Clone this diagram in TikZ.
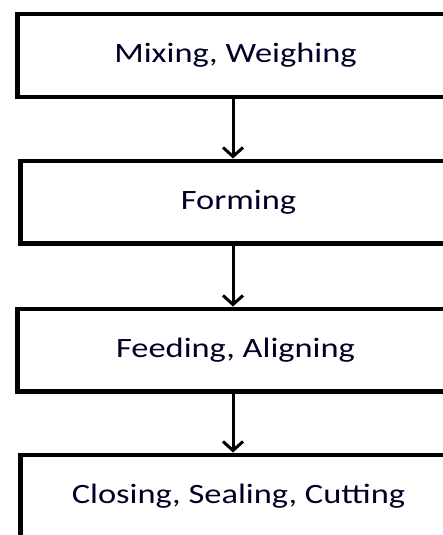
\documentclass[tikz,border=0pt]{standalone}
\usepackage{fontspec}
\setmainfont{Carlito}[FakeStretch=1.23]
\usetikzlibrary{arrows.meta}
\begin{document}
\begin{tikzpicture}[x=1pt,y=-1pt,
  box/.style={draw=black,line width=4.5pt,minimum width=436pt,minimum height=82.5pt,inner sep=0pt,
    font=\fontsize{28}{32}\selectfont,text=black!85!blue},
  arr/.style={line width=3pt,-{Straight Barb[length=9pt,width=20pt,line width=3pt]}}]
\useasboundingbox (0,0) rectangle (443,535);
\node[box] (b1) at (235.5,55.5) {Mixing, Weighing};
\node[box] (b2) at (238.5,202) {Forming};
\node[box] (b3) at (235.5,350) {Feeding, Aligning};
\node[box] (b4) at (238.5,496) {Closing, Sealing, Cutting};
\coordinate (ax) at (233,0);
\draw[arr] (b1.south -| ax) -- (b2.north -| ax);
\draw[arr] (b2.south -| ax) -- (b3.north -| ax);
\draw[arr] (b3.south -| ax) -- (b4.north -| ax);
\end{tikzpicture}
\end{document}
